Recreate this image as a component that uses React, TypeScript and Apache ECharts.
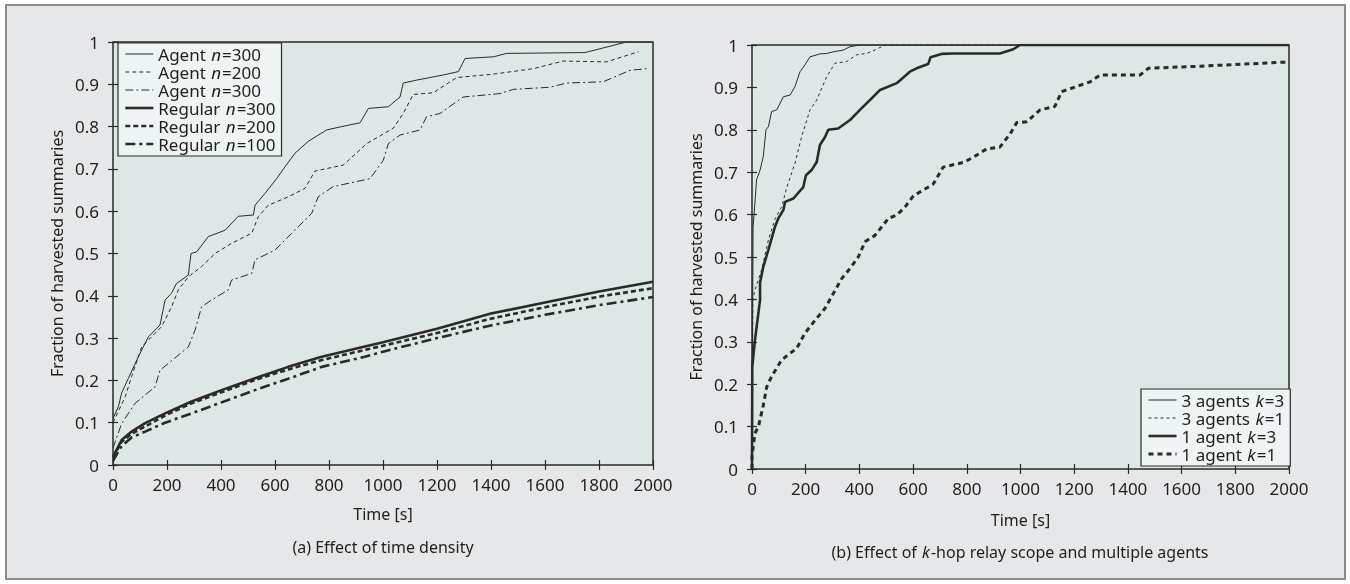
import React, { useEffect, useRef } from "react";
import * as echarts from "echarts";

// ---------- tick labels ----------
const xTicks = [0, 200, 400, 600, 800, 1000, 1200, 1400, 1600, 1800, 2000];
const yTicks = [0, 0.1, 0.2, 0.3, 0.4, 0.5, 0.6, 0.7, 0.8, 0.9, 1];

// ---------- (a) Effect of time density ----------
const agent300: number[][] = [
  [0, 0.11], [20, 0.138], [32, 0.17], [57, 0.205], [94, 0.256], [131, 0.303], [156, 0.319],
  [174, 0.331], [193, 0.39], [217, 0.406], [235, 0.429], [279, 0.449], [289, 0.5], [310, 0.504],
  [353, 0.54], [415, 0.555], [464, 0.588], [520, 0.591], [526, 0.614], [563, 0.642], [606, 0.677],
  [637, 0.705], [674, 0.737], [723, 0.765], [791, 0.792], [847, 0.8], [915, 0.809], [946, 0.843],
  [1020, 0.847], [1063, 0.87], [1075, 0.903], [1125, 0.91], [1223, 0.922], [1279, 0.93],
  [1304, 0.961], [1409, 0.965], [1458, 0.973], [1748, 0.975], [1902, 1.0], [2000, 1.0],
];
const agent200: number[][] = [
  [0, 0.1], [45, 0.161], [69, 0.209], [106, 0.279], [143, 0.303], [180, 0.327], [217, 0.374],
  [242, 0.414], [279, 0.445], [328, 0.469], [378, 0.5], [439, 0.524], [514, 0.548], [538, 0.587],
  [575, 0.614], [649, 0.634], [711, 0.654], [748, 0.695], [853, 0.709], [940, 0.76], [1038, 0.796],
  [1075, 0.831], [1112, 0.876], [1186, 0.88], [1273, 0.916], [1409, 0.924], [1557, 0.937],
  [1668, 0.955], [1828, 0.953], [1946, 0.977],
];
const agent300b: number[][] = [
  [0, 0.04], [32, 0.098], [82, 0.146], [156, 0.185], [174, 0.224], [279, 0.279], [304, 0.319],
  [328, 0.374], [365, 0.39], [427, 0.414], [439, 0.437], [514, 0.453], [526, 0.485], [600, 0.508],
  [662, 0.548], [736, 0.595], [760, 0.634], [815, 0.658], [952, 0.677], [1001, 0.72], [1020, 0.76],
  [1063, 0.78], [1137, 0.792], [1161, 0.823], [1211, 0.831], [1297, 0.87], [1433, 0.878],
  [1483, 0.888], [1618, 0.893], [1680, 0.903], [1816, 0.906], [1915, 0.933], [1976, 0.937],
];
const regular300: number[][] = [
  [0, 0.02], [32, 0.059], [69, 0.079], [119, 0.099], [193, 0.122], [291, 0.15], [402, 0.177],
  [526, 0.205], [649, 0.232], [773, 0.256], [933, 0.28], [1000, 0.29], [1200, 0.322],
  [1400, 0.358], [1600, 0.384], [1800, 0.41], [2000, 0.433],
];
const regular200: number[][] = [
  [0, 0.018], [32, 0.055], [69, 0.074], [119, 0.091], [193, 0.117], [291, 0.146], [402, 0.172],
  [526, 0.201], [649, 0.226], [773, 0.248], [933, 0.272], [1000, 0.282], [1200, 0.312],
  [1400, 0.346], [1600, 0.373], [1800, 0.398], [2000, 0.418],
];
const regular100: number[][] = [
  [0, 0.01], [32, 0.045], [69, 0.065], [119, 0.079], [193, 0.1], [291, 0.122], [402, 0.148],
  [526, 0.177], [649, 0.204], [773, 0.232], [933, 0.256], [1000, 0.268], [1200, 0.3],
  [1400, 0.33], [1600, 0.355], [1800, 0.378], [2000, 0.397],
];

// ---------- (b) Effect of k-hop relay scope and multiple agents ----------
const agents3k3: number[][] = [
  [0, 0], [2, 0.3], [4, 0.57], [10, 0.62], [17, 0.682], [30, 0.705], [42, 0.737], [52, 0.8],
  [61, 0.807], [73, 0.843], [92, 0.847], [117, 0.878], [142, 0.882], [160, 0.902], [179, 0.937],
  [197, 0.953], [216, 0.972], [253, 0.979], [278, 0.98], [303, 0.984], [340, 0.988], [365, 0.996],
  [402, 1.0], [2000, 1.0],
];
const agents3k1: number[][] = [
  [0, 0], [3, 0.4], [11, 0.422], [36, 0.47], [61, 0.54], [86, 0.59], [111, 0.619], [130, 0.665],
  [160, 0.721], [185, 0.784], [216, 0.847], [241, 0.87], [278, 0.925], [309, 0.957], [352, 0.961],
  [390, 0.977], [427, 0.98], [464, 0.99], [495, 1.0], [2000, 1.0],
];
const agent1k3: number[][] = [
  [0, 0], [1, 0.241], [11, 0.304], [30, 0.399], [30, 0.44], [42, 0.477], [61, 0.517], [86, 0.572],
  [98, 0.591], [117, 0.611], [123, 0.63], [154, 0.638], [191, 0.665], [201, 0.693], [222, 0.705],
  [241, 0.724], [253, 0.764], [272, 0.783], [284, 0.8], [321, 0.803], [365, 0.823], [402, 0.847],
  [439, 0.87], [477, 0.894], [539, 0.91], [588, 0.937], [613, 0.945], [656, 0.955], [665, 0.971],
  [706, 0.979], [749, 0.98], [923, 0.98], [973, 0.99], [998, 1.0], [2000, 1.0],
];
const agent1k1: number[][] = [
  [0, 0], [0, 0.03], [11, 0.084], [24, 0.1], [42, 0.15], [55, 0.194], [73, 0.218], [110, 0.257],
  [142, 0.273], [166, 0.284], [197, 0.32], [235, 0.351], [272, 0.379], [303, 0.414], [334, 0.449],
  [365, 0.473], [396, 0.5], [421, 0.536], [458, 0.551], [483, 0.571], [508, 0.591], [539, 0.599],
  [570, 0.618], [601, 0.644], [675, 0.672], [712, 0.712], [787, 0.723], [824, 0.735], [874, 0.755],
  [923, 0.759], [961, 0.79], [986, 0.817], [1023, 0.819], [1073, 0.847], [1128, 0.855],
  [1153, 0.89], [1259, 0.913], [1296, 0.929], [1445, 0.929], [1476, 0.945], [1668, 0.95],
  [2000, 0.96],
];

const leftNames = ["a300", "a200", "a300b", "r300", "r200", "r100"];
const leftLabels = [
  "Agent {i|n}=300",
  "Agent {i|n}=200",
  "Agent {i|n}=300",
  "Regular {i|n}=300",
  "Regular {i|n}=200",
  "Regular {i|n}=100",
];
const rightNames = ["g3k3", "g3k1", "g1k3", "g1k1"];
const rightLabels = [
  "3 agents {i|k}=3",
  "3 agents {i|k}=1",
  "1 agent {i|k}=3",
  "1 agent {i|k}=1",
];

const FONT = "'Noto Sans', 'Open Sans', sans-serif";
const INK = "#2a2a2a";
const TXT = "#1e1e1e";

// line styles (width, dash) per series key
const STYLE: Record<string, [number, any]> = {
  a300: [1, "solid"],
  a200: [1, [4, 3]],
  a300b: [1, [8, 3, 2, 3]],
  r300: [2.6, "solid"],
  r200: [2.6, [5, 3]],
  r100: [2.6, [10, 4, 3, 4]],
  g3k3: [1, "solid"],
  g3k1: [1, [3, 3]],
  g1k3: [2.6, "solid"],
  g1k1: [3, [5, 4]],
};

export default function App() {
  const ref = useRef<HTMLDivElement>(null);
  useEffect(() => {
    if (!ref.current) return;
    const chart = echarts.init(ref.current, undefined, { renderer: "svg" });

    const labelMap: Record<string, string> = {};
    leftNames.forEach((n, i) => (labelMap[n] = leftLabels[i]));
    rightNames.forEach((n, i) => (labelMap[n] = rightLabels[i]));

    const grids = [
      { left: 113, top: 42, width: 540, height: 423 },
      { left: 752, top: 45, width: 537, height: 424 },
    ];

    const baseX = (gi: number, withLabels: boolean, pos: "bottom" | "top") => ({
      type: "value",
      gridIndex: gi,
      position: pos,
      min: xTicks[0],
      max: xTicks[xTicks.length - 1],
      interval: xTicks[1] - xTicks[0],
      axisLine: { show: false },
      axisTick: { show: true, inside: true, length: 5, lineStyle: { color: INK, width: 1.2 } },
      axisLabel: {
        show: withLabels,
        margin: 11,
        fontSize: 17,
        fontFamily: FONT,
        color: TXT,
        showMinLabel: true,
        showMaxLabel: true,
        formatter: (v: number) => String(v),
      },
      splitLine: { show: false },
      name: withLabels ? "Time [s]" : "",
      nameLocation: "middle",
      nameGap: gi === 0 ? 41 : 43,
      nameTextStyle: { fontSize: 16, fontFamily: FONT, color: TXT },
    });
    const baseY = (gi: number, withLabels: boolean, pos: "left" | "right") => ({
      type: "value",
      gridIndex: gi,
      position: pos,
      min: yTicks[0],
      max: yTicks[yTicks.length - 1],
      interval: 0.1,
      axisLine: { show: false },
      axisTick: { show: true, inside: true, length: 5, lineStyle: { color: INK, width: 1.2 } },
      axisLabel: {
        show: withLabels,
        margin: 14,
        fontSize: 17,
        fontFamily: FONT,
        color: TXT,
        formatter: (v: number) => String(Math.round(v * 10) / 10),
      },
      splitLine: { show: false },
      name: withLabels ? "Fraction of harvested summaries" : "",
      nameLocation: "middle",
      nameRotate: 90,
      nameGap: 48,
      nameTextStyle: { fontSize: 16, fontFamily: FONT, color: TXT },
    });

    const line = (name: string, data: number[][], gi: number) => ({
      name,
      type: "line",
      xAxisIndex: gi * 2,
      yAxisIndex: gi * 2,
      data,
      symbol: "none",
      showSymbol: false,
      clip: true,
      lineStyle: { color: INK, width: STYLE[name][0], type: STYLE[name][1] },
      itemStyle: { color: INK },
    });

    const legendData = (names: string[]) =>
      names.map((n) => ({
        name: n,
        lineStyle: { color: INK, width: STYLE[n][0], type: STYLE[n][1], opacity: 1 },
      }));

    const legendCommon = {
      orient: "vertical",
      itemWidth: 28,
      itemHeight: 10,
      itemGap: 0,
      padding: [2, 6, 3, 6],
      backgroundColor: "#eef3f3",
      borderColor: INK,
      borderWidth: 1.2,
      itemStyle: { opacity: 0, borderWidth: 0, color: "transparent" },
      textStyle: {
        fontSize: 17,
        fontFamily: FONT,
        color: TXT,
        lineHeight: 18,
        rich: {
          i: {
            fontStyle: "italic",
            fontSize: 17,
            fontFamily: FONT,
            color: TXT,
            lineHeight: 18,
            padding: [0, 1, 0, 1],
          },
        },
      },
      formatter: (n: string) => labelMap[n] || n,
      selectedMode: false,
    };

    chart.setOption({
      animation: false,
      backgroundColor: "transparent",
      textStyle: { fontFamily: FONT },
      graphic: [
        {
          type: "rect",
          z: -10,
          shape: { x: 6, y: 5, width: 1339, height: 574 },
          style: { fill: "#e6e7e9", stroke: "#8c8c8c", lineWidth: 2 },
          silent: true,
        },
        {
          type: "text",
          x: 383,
          y: 547,
          style: {
            text: "(a) Effect of time density",
            fontSize: 16,
            fontFamily: FONT,
            fill: TXT,
            align: "center",
            verticalAlign: "middle",
          },
        },
        {
          type: "text",
          x: 1020,
          y: 552,
          style: {
            text: "(b) Effect of {i|k}-hop relay scope and multiple agents",
            fontSize: 16,
            fontFamily: FONT,
            fill: TXT,
            align: "center",
            verticalAlign: "middle",
            rich: {
              i: {
                fontStyle: "italic",
                fontSize: 16,
                fontFamily: FONT,
                fill: TXT,
                padding: [0, 1, 0, 1],
              },
            },
          },
        },
      ],
      grid: grids.map((g) => ({
        ...g,
        show: true,
        backgroundColor: "#dde8e6",
        borderColor: INK,
        borderWidth: 1.5,
      })),
      xAxis: [
        baseX(0, true, "bottom"),
        baseX(0, false, "top"),
        baseX(1, true, "bottom"),
        baseX(1, false, "top"),
      ],
      yAxis: [
        baseY(0, true, "left"),
        baseY(0, false, "right"),
        baseY(1, true, "left"),
        baseY(1, false, "right"),
      ],
      legend: [
        { ...legendCommon, left: 118, top: 43, data: legendData(leftNames) },
        { ...legendCommon, left: 1141, top: 389, data: legendData(rightNames) },
      ],
      series: [
        line("a300", agent300, 0),
        line("a200", agent200, 0),
        line("a300b", agent300b, 0),
        line("r300", regular300, 0),
        line("r200", regular200, 0),
        line("r100", regular100, 0),
        line("g3k3", agents3k3, 1),
        line("g3k1", agents3k1, 1),
        line("g1k3", agent1k3, 1),
        line("g1k1", agent1k1, 1),
      ],
    });
    return () => chart.dispose();
  }, []);
  return (
    <div ref={ref} style={{ position: "fixed", left: 0, top: 0, width: 1350, height: 584 }} />
  );
}
